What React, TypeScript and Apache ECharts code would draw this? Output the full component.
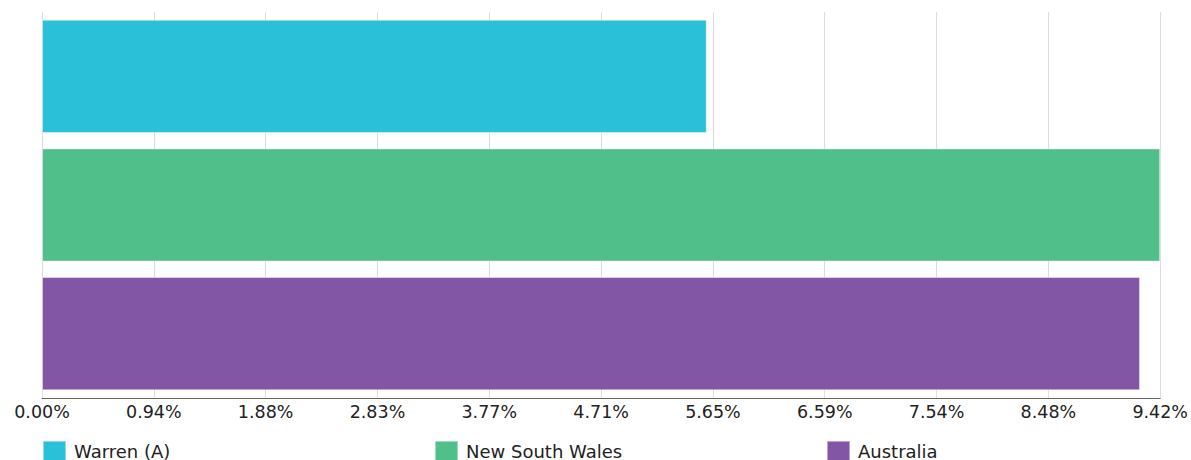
import React, { useEffect, useRef } from "react";
import * as echarts from "echarts";

// Share of population by area (percent)
const areas = ["Warren (A)", "New South Wales", "Australia"];
const values = [5.6, 9.42, 9.25];
const colors = ["#29c0d8", "#51bf8a", "#8355a5"];
const axisTicks = { min: 0, max: 9.42, step: 0.942 };

const FONT = "DejaVu Sans";

export default function App() {
  const ref = useRef<HTMLDivElement>(null);

  useEffect(() => {
    if (!ref.current) return;
    const chart = echarts.init(ref.current, null, { renderer: "svg" });

    const series = areas.map((name, i) => ({
      name,
      type: "bar",
      stack: "all",
      barCategoryGap: "12%",
      data: areas.map((_, j) => (j === i ? values[i] : "-")),
      itemStyle: {
        color: colors[i],
        borderColor: "rgba(255,255,255,0.45)",
        borderWidth: 1,
      },
    }));

    // one legend per area so each entry sits in its own column
    const legendLefts = [42, 434, 826];
    const legend = areas.map((name, i) => ({
      data: [name],
      left: legendLefts[i],
      top: 440,
      padding: 0,
      icon: "rect",
      itemWidth: 23,
      itemHeight: 20,
      itemGap: 8,
      textStyle: { fontFamily: FONT, fontSize: 18, lineHeight: 18, color: "#222", padding: [0, 0, 0, 3] },
      selectedMode: false,
    }));

    chart.setOption({
      animation: false,
      grid: { left: 42, right: 28, top: 12, bottom: 62, containLabel: false },
      legend,
      xAxis: {
        type: "value",
        min: axisTicks.min,
        max: axisTicks.max,
        interval: axisTicks.step,
        axisLine: { show: true, lineStyle: { color: "#666", width: 1 } },
        axisTick: { show: false },
        splitLine: { show: true, lineStyle: { color: "#dcdcdc", width: 1 } },
        axisLabel: {
          fontFamily: FONT,
          fontSize: 17.5,
          color: "#222",
          margin: 5,
          formatter: (v: number) => v.toFixed(2) + "%",
        },
      },
      yAxis: {
        type: "category",
        data: areas,
        inverse: true,
        axisLine: { show: false },
        axisTick: { show: false },
        axisLabel: { show: false },
        splitLine: { show: false },
      },
      series,
    });

    return () => chart.dispose();
  }, []);

  return (
    <div
      ref={ref}
      style={{ position: "fixed", left: 0, top: 0, width: 1191, height: 460, background: "#fff" }}
    />
  );
}
